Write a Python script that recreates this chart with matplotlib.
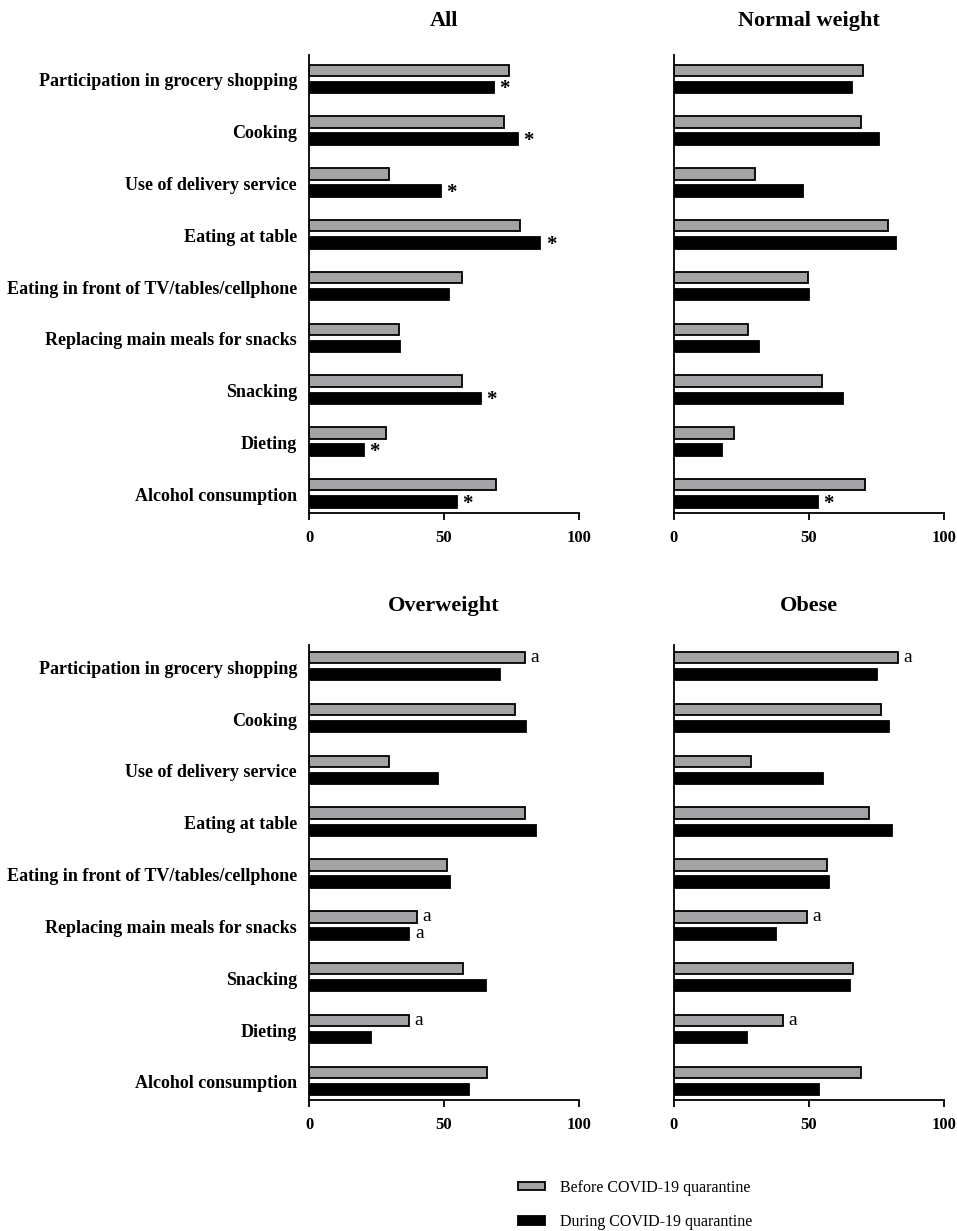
import matplotlib
matplotlib.use('Agg')
import matplotlib.pyplot as plt
from matplotlib.patches import Patch

plt.rcParams['font.family'] = ['Liberation Serif', 'DejaVu Serif']

# categories, top to bottom
categories = ['Participation in grocery shopping', 'Cooking', 'Use of delivery service',
              'Eating at table', 'Eating in front of TV/tables/cellphone',
              'Replacing main meals for snacks', 'Snacking', 'Dieting', 'Alcohol consumption']

# percentages before / during quarantine for each group
all_before = [74.1, 72.3, 29.5, 78.3, 56.8, 33.4, 56.8, 28.5, 69.3]
all_during = [68.4, 77.4, 48.8, 85.7, 51.7, 33.8, 63.7, 20.2, 54.7]
normal_before = [69.9, 69.3, 30.1, 79.2, 49.8, 27.5, 54.7, 22.2, 70.7]
normal_during = [65.8, 75.8, 47.8, 82.4, 50.1, 31.3, 62.6, 17.6, 53.3]
over_before = [80.0, 76.3, 29.5, 80.0, 51.0, 40.1, 57.2, 37.1, 66.0]
over_during = [70.9, 80.4, 47.7, 84.2, 52.3, 37.2, 65.6, 23.1, 59.3]
obese_before = [82.9, 76.6, 28.4, 72.1, 56.7, 49.2, 66.3, 40.2, 69.4]
obese_during = [75.2, 79.7, 55.0, 80.9, 57.5, 37.9, 65.2, 27.1, 53.8]

# significance marks: (category index, 'before'/'during', text)
all_marks = [(0, 'during', '*'), (1, 'during', '*'), (2, 'during', '*'), (3, 'during', '*'),
             (6, 'during', '*'), (7, 'during', '*'), (8, 'during', '*')]
normal_marks = [(8, 'during', '*')]
over_marks = [(0, 'before', 'a'), (5, 'before', 'a'), (5, 'during', 'a'), (7, 'before', 'a')]
obese_marks = [(0, 'before', 'a'), (5, 'before', 'a'), (7, 'before', 'a')]

legend_labels = ['Before COVID-19 quarantine', 'During COVID-19 quarantine']

W, H = 957, 1231
fig = plt.figure(figsize=(W / 100, H / 100), dpi=100)

def px_axes(left, top, right, bottom):
    return fig.add_axes([left / W, 1 - bottom / H, (right - left) / W, (bottom - top) / H])

panels = [
    ('All', all_before, all_during, all_marks, (309, 55, 579, 513), True, (-0.46, 8.38), 21),
    ('Normal weight', normal_before, normal_during, normal_marks, (674, 55, 944, 513), False, (-0.46, 8.38), 21),
    ('Overweight', over_before, over_during, over_marks, (309, 645, 579, 1100), True, (-0.41, 8.37), 606),
    ('Obese', obese_before, obese_during, obese_marks, (674, 645, 944, 1100), False, (-0.41, 8.37), 606),
]

gray = '#a3a3a6'
off = 0.165
bh = 0.22

for title, before, during, marks, box, show_labels, ylim, title_y in panels:
    ax = px_axes(*box)
    pos = list(range(len(categories)))
    ax.barh([p - off for p in pos], before, height=bh, color=gray, edgecolor='black', linewidth=1.3)
    ax.barh([p + off for p in pos], during, height=bh, color='black', edgecolor='black', linewidth=1.3)
    ax.set_xlim(0, 100)
    ax.set_ylim(ylim[1], ylim[0])
    ax.set_xticks([0, 50, 100])
    ax.set_yticks([])
    if show_labels:
        # category names, sitting a little below the group centre as in the original
        for p, name in zip(pos, categories):
            ax.annotate(name, (0, p), xycoords=ax.get_yaxis_transform(),
                        xytext=(-12, -3), textcoords='offset pixels',
                        ha='right', va='center', fontsize=13, fontweight='bold')
    ax.tick_params(axis='x', length=5, width=1.3, labelsize=12, pad=7)
    for lab in ax.get_xticklabels():
        lab.set_fontweight('bold')
    ax.spines['top'].set_visible(False)
    ax.spines['right'].set_visible(False)
    ax.spines['left'].set_linewidth(1.3)
    ax.spines['bottom'].set_linewidth(1.3)
    for idx, series, txt in marks:
        if series == 'before':
            xv, yv = before[idx], idx - off
        else:
            xv, yv = during[idx], idx + off
        if txt == '*':
            ax.annotate(txt, (xv, yv), xytext=(4, -1.5), textcoords='offset points',
                        ha='left', va='center', fontsize=15, fontweight='bold')
        else:
            ax.annotate(txt, (xv, yv), xytext=(4, 0), textcoords='offset points',
                        ha='left', va='center', fontsize=14)
    cx = (box[0] + box[2]) / 2
    fig.text(cx / W, 1 - title_y / H, title, ha='center', va='center',
             fontsize=16, fontweight='bold')

handles = [Patch(facecolor=gray, edgecolor='black', linewidth=1.3),
           Patch(facecolor='black', edgecolor='black', linewidth=1.3)]
fig.legend(handles, legend_labels, loc='center left',
           bbox_to_anchor=(518 / W, 1 - 1205 / H), frameon=False,
           borderaxespad=0, borderpad=0, handlelength=1.7, handleheight=0.45,
           labelspacing=1.15, handletextpad=0.95, fontsize=11.5)

fig.savefig('out.png', dpi=100)
